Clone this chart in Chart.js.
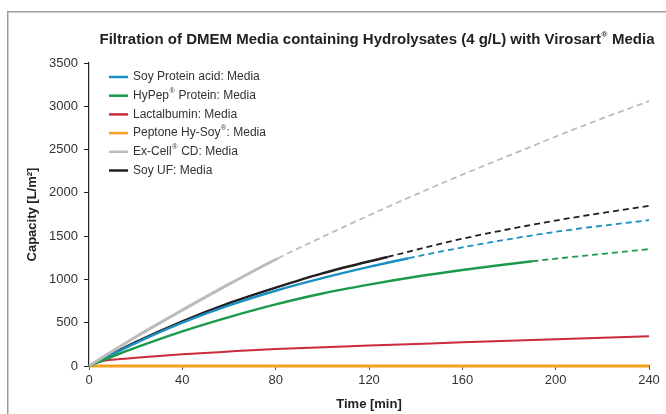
<!DOCTYPE html>
<html>
<head>
<meta charset="utf-8">
<script src="https://cdn.jsdelivr.net/npm/chart.js@4.4.1/dist/chart.umd.min.js"></script>
<style>
  html, body { margin: 0; padding: 0; background: #fff; }
  #wrap { width: 666px; height: 414px; position: relative; }
</style>
</head>
<body>
<div id="wrap"><canvas id="myChart"></canvas></div>
<script>
// Chart values
var chartTitle = 'Filtration of DMEM Media containing Hydrolysates (4 g/L) with Virosart® Media';
var xTicks = [0, 40, 80, 120, 160, 200, 240];
var yTicks = [0, 500, 1000, 1500, 2000, 2500, 3000, 3500];

var seriesNames = ['Soy Protein acid: Media', 'HyPep® Protein: Media', 'Lactalbumin: Media',
                   'Peptone Hy-Soy®: Media', 'Ex-Cell® CD: Media', 'Soy UF: Media'];
var seriesColors = ['#1b8fc2', '#1b9a4a', '#cc2b3d', '#f4a11e', '#bcbcbc', '#231f20'];

// time [min] / capacity [L/m2]; measured part is solid up to the cut, then dashed
var soyAcidTime = [0, 10, 20, 40, 60, 80, 100, 120, 137, 160, 200, 240];
var soyAcidCap  = [0, 135, 265, 500, 700, 870, 1015, 1145, 1245, 1370, 1550, 1685];
var soyAcidCut  = 137;

var hypepTime = [0, 10, 20, 40, 60, 80, 100, 120, 140, 160, 190, 220, 240];
var hypepCap  = [0, 110, 212, 400, 565, 712, 838, 940, 1030, 1108, 1210, 1295, 1350];
var hypepCut  = 190;

var lactTime = [0, 3, 6, 10, 20, 40, 60, 80, 120, 160, 200, 240];
var lactCap  = [0, 40, 58, 72, 95, 135, 167, 196, 236, 273, 310, 343];
var lactCut  = 240;

var peptoneTime = [0, 240];
var peptoneCap  = [0, 0];
var peptoneCut  = 240;

var excellTime = [0, 10, 20, 40, 60, 81, 100, 120, 140, 160, 180, 200, 220, 240];
var excellCap  = [0, 170, 335, 645, 945, 1245, 1490, 1740, 1980, 2210, 2430, 2650, 2860, 3060];
var excellCut  = 81;

var soyUfTime = [0, 10, 20, 40, 60, 80, 100, 128, 160, 200, 240];
var soyUfCap  = [0, 140, 275, 515, 725, 905, 1070, 1260, 1470, 1680, 1850];
var soyUfCut  = 128;

var fontFamily = "'Liberation Sans', Arial, sans-serif";

function points(times, caps) {
    return times.map(function(t, i) { return { x: t, y: caps[i] }; });
}

function makeSet(idx, times, caps, cut, solidWidth) {
    return {
        label: seriesNames[idx],
        data: points(times, caps),
        borderColor: seriesColors[idx],
        backgroundColor: seriesColors[idx],
        borderWidth: solidWidth,
        pointRadius: 0,
        cubicInterpolationMode: 'monotone',
        fill: false,
        clip: false,
        segment: {
            borderDash: function(c) { return c.p0.parsed.x >= cut ? [6, 4] : undefined; },
            borderWidth: function(c) { return c.p0.parsed.x >= cut ? 1.8 : solidWidth; }
        }
    };
}

// draws a string, with every ® set as a small raised mark
function drawRich(ctx, text, x, y, size, weight, align) {
    var parts = text.split('®');
    var big = weight + ' ' + size + 'px ' + fontFamily;
    var small = weight + ' ' + Math.round(size * 0.55) + 'px ' + fontFamily;
    var total = 0;
    parts.forEach(function(p, i) {
        ctx.font = big; total += ctx.measureText(p).width;
        if (i < parts.length - 1) { ctx.font = small; total += ctx.measureText('®').width + 1; }
    });
    var cx = align === 'center' ? x - total / 2 : x;
    ctx.textAlign = 'left';
    ctx.textBaseline = 'middle';
    parts.forEach(function(p, i) {
        ctx.font = big;
        ctx.fillText(p, cx, y);
        cx += ctx.measureText(p).width;
        if (i < parts.length - 1) {
            ctx.font = small;
            ctx.fillText('®', cx + 0.5, y - size * 0.38);
            cx += ctx.measureText('®').width + 1;
        }
    });
}

var decorPlugin = {
    id: 'decor',
    beforeDraw: function(chart) {
        var ctx = chart.ctx;
        ctx.save();
        ctx.strokeStyle = '#9c9c9c';
        ctx.lineWidth = 1.5;
        ctx.beginPath();
        ctx.moveTo(7.75, 414);
        ctx.lineTo(7.75, 11.75);
        ctx.lineTo(666, 11.75);
        ctx.stroke();
        ctx.restore();
    },
    afterDraw: function(chart) {
        var ctx = chart.ctx;
        ctx.save();
        ctx.fillStyle = '#222';
        drawRich(ctx, chartTitle, 377, 40, 15, 'bold', 'center');
        // legend inside the plot
        seriesNames.forEach(function(name, i) {
            var y = 77 + i * 18.7;
            ctx.strokeStyle = seriesColors[i];
            ctx.lineWidth = 2.5;
            ctx.beginPath();
            ctx.moveTo(109, y);
            ctx.lineTo(128, y);
            ctx.stroke();
            ctx.fillStyle = '#333';
            drawRich(ctx, name, 133, y, 12, 'normal', 'left');
        });
        ctx.restore();
    }
};

document.addEventListener("DOMContentLoaded", function() {
    var ctx = document.getElementById('myChart').getContext('2d');

    var myChart = new Chart(ctx, {
        type: 'line',
        data: {
            datasets: [
                makeSet(4, excellTime, excellCap, excellCut, 3),
                makeSet(1, hypepTime, hypepCap, hypepCut, 2.5),
                makeSet(0, soyAcidTime, soyAcidCap, soyAcidCut, 2.5),
                makeSet(5, soyUfTime, soyUfCap, soyUfCut, 2.5),
                makeSet(2, lactTime, lactCap, lactCut, 2),
                makeSet(3, peptoneTime, peptoneCap, peptoneCut, 3)
            ]
        },
        options: {
            responsive: true,
            maintainAspectRatio: false,
            animation: false,
            layout: { padding: { left: 10, right: 17, top: 63, bottom: 2 } },
            plugins: {
                legend: { display: false },
                title: { display: false },
                tooltip: { enabled: false }
            },
            scales: {
                x: {
                    type: 'linear',
                    min: 0,
                    max: 240,
                    afterFit: function(s) { s.height = 46; },
                    afterBuildTicks: function(s) { s.ticks = xTicks.map(function(v) { return { value: v }; }); },
                    border: { color: '#555', width: 1.2 },
                    grid: { drawOnChartArea: false, drawTicks: true, tickLength: 4, color: '#555' },
                    ticks: {
                        color: '#333', padding: 3, font: { family: fontFamily, size: 13 },
                        callback: function(v) { return String(v); }
                    },
                    title: {
                        display: true,
                        text: 'Time [min]',
                        color: '#222',
                        padding: { top: 0, bottom: 0 },
                        font: { family: fontFamily, size: 13, weight: 'bold' }
                    }
                },
                y: {
                    min: 0,
                    max: 3500,
                    afterFit: function(s) { s.width = 79; },
                    afterBuildTicks: function(s) { s.ticks = yTicks.map(function(v) { return { value: v }; }); },
                    border: { color: '#222', width: 1.2 },
                    grid: { drawOnChartArea: false, drawTicks: true, tickLength: 5, color: '#222' },
                    ticks: {
                        color: '#333', padding: 6, font: { family: fontFamily, size: 13 },
                        callback: function(v) { return String(v); }
                    },
                    title: {
                        display: true,
                        text: 'Capacity [L/m²]',
                        color: '#222',
                        padding: { top: 15, bottom: 0 },
                        font: { family: fontFamily, size: 13, weight: 'bold' }
                    }
                }
            }
        },
        plugins: [decorPlugin]
    });
});
</script>
</body>
</html>
